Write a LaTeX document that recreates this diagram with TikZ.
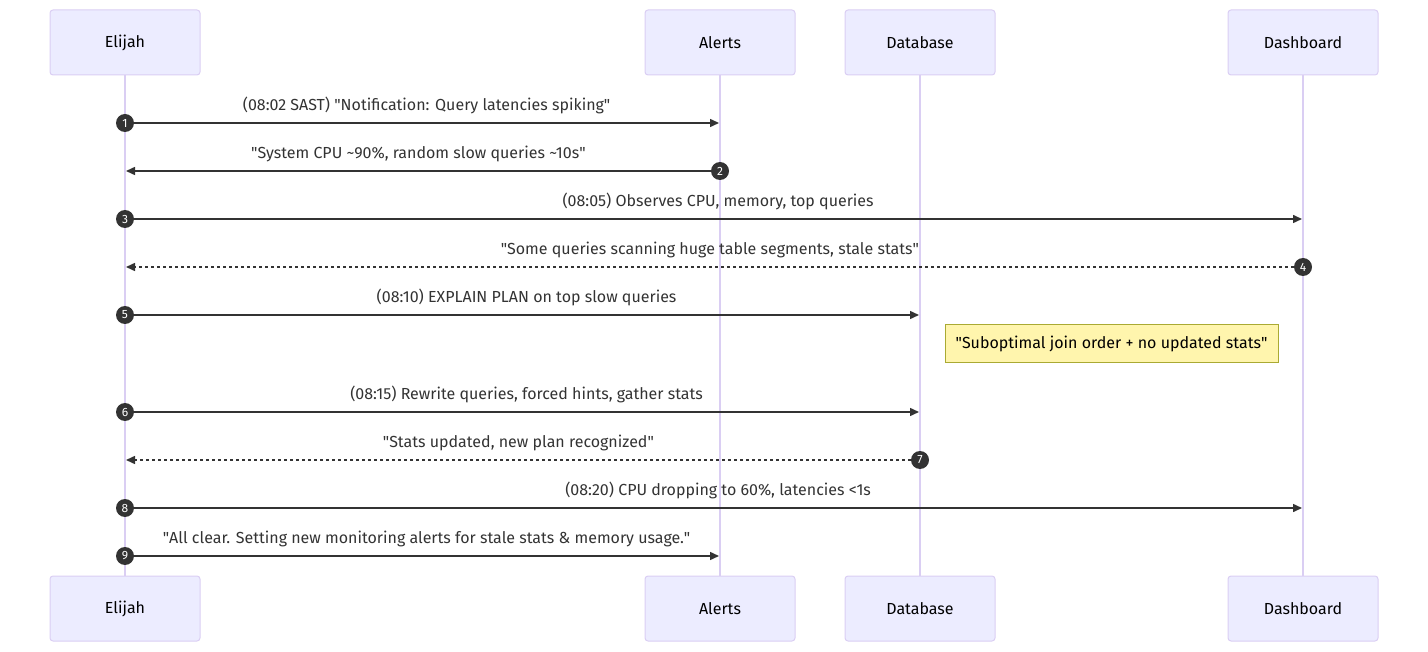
\documentclass[tikz,border=0pt]{standalone}
\usepackage{fontspec}
\setmainfont{Fira Sans}
\usetikzlibrary{arrows.meta}

\definecolor{actorfill}{HTML}{ECECFF}
\definecolor{actorline}{HTML}{DACEF3}
\definecolor{msgcolor}{HTML}{333333}
\definecolor{notefill}{HTML}{FFF5AD}
\definecolor{noteline}{HTML}{AAAA33}
\newcommand{\qt}{\textquotedbl}

\begin{document}
\begin{tikzpicture}[x=1pt,y=-1pt]
    \tikzstyle{actor}=[draw=actorline,fill=actorfill,rounded corners=3pt,line width=1pt,minimum width=150pt,minimum height=65pt,inner sep=0pt,font=\fontsize{16}{19}\selectfont]
    \tikzstyle{lifeline}=[draw=actorline,line width=1.5pt]
    \tikzstyle{msg}=[draw=msgcolor,line width=1.5pt,-{Triangle[length=9pt,width=8pt]}]
    \tikzstyle{reply}=[msg,dash pattern=on 3pt off 3pt]
    \tikzstyle{lbl}=[midway,above=7pt,inner sep=1pt,text=msgcolor,font=\fontsize{16}{19}\selectfont]
    \tikzstyle{num}=[circle,fill=msgcolor,text=white,minimum size=18pt,inner sep=0pt,font=\fontsize{12}{13}\selectfont]
    \tikzstyle{note}=[draw=noteline,fill=notefill,line width=1pt,minimum width=333pt,minimum height=38pt,font=\fontsize{16}{19}\selectfont]
    \useasboundingbox (0,0) rectangle (1428,652);

    % participants, top and bottom
    \node[actor] (elijahT) at (125,42.5) {Elijah};
    \node[actor] (alertsT) at (720,42.5) {Alerts};
    \node[actor] (dbT) at (920,42.5) {Database};
    \node[actor] (dashT) at (1303,42.5) {Dashboard};
    \node[actor] (elijahB) at (125,608.5) {Elijah};
    \node[actor] (alertsB) at (720,608.5) {Alerts};
    \node[actor] (dbB) at (920,608.5) {Database};
    \node[actor] (dashB) at (1303,608.5) {Dashboard};

    % lifelines
    \draw[lifeline] (elijahT) -- (elijahB);
    \draw[lifeline] (alertsT) -- (alertsB);
    \draw[lifeline] (dbT) -- (dbB);
    \draw[lifeline] (dashT) -- (dashB);

    % arrow ends on the lifelines
    \coordinate (a1) at (719,123);
    \coordinate (a2) at (126,171);
    \coordinate (a3) at (1302,219);
    \coordinate (a4) at (126,267);
    \coordinate (a5) at (919,315);
    \coordinate (a6) at (919,412);
    \coordinate (a7) at (126,460);
    \coordinate (a8) at (1302,508);
    \coordinate (a9) at (719,556);

    \node[num] (n1) at (125,123) {1};
    \node[num] (n2) at (720,171) {2};
    \node[num] (n3) at (125,219) {3};
    \node[num] (n4) at (1303,267) {4};
    \node[num] (n5) at (125,315) {5};
    \node[num] (n6) at (125,412) {6};
    \node[num] (n7) at (920,460) {7};
    \node[num] (n8) at (125,508) {8};
    \node[num] (n9) at (125,556) {9};

    \draw[msg] (n1) -- node[lbl]{(08:02 SAST) \qt Notification: Query latencies spiking\qt} (a1);
    \draw[msg] (n2) -- node[lbl]{\qt System CPU \textasciitilde90\%, random slow queries \textasciitilde10s\qt} (a2);
    \draw[msg] (n3) -- node[lbl]{(08:05) Observes CPU, memory, top queries} (a3);
    \draw[reply] (n4) -- node[lbl]{\qt Some queries scanning huge table segments, stale stats\qt} (a4);
    \draw[msg] (n5) -- node[lbl]{(08:10) EXPLAIN PLAN on top slow queries} (a5);
    \node[note] (note1) at (1111.5,344) {\qt Suboptimal join order + no updated stats\qt};
    \draw[msg] (n6) -- node[lbl]{(08:15) Rewrite queries, forced hints, gather stats} (a6);
    \draw[reply] (n7) -- node[lbl]{\qt Stats updated, new plan recognized\qt} (a7);
    \draw[msg] (n8) -- node[lbl]{(08:20) CPU dropping to 60\%, latencies <1s} (a8);
    \draw[msg] (n9) -- node[lbl]{\qt All clear. Setting new monitoring alerts for stale stats \& memory usage.\qt} (a9);
\end{tikzpicture}
\end{document}
